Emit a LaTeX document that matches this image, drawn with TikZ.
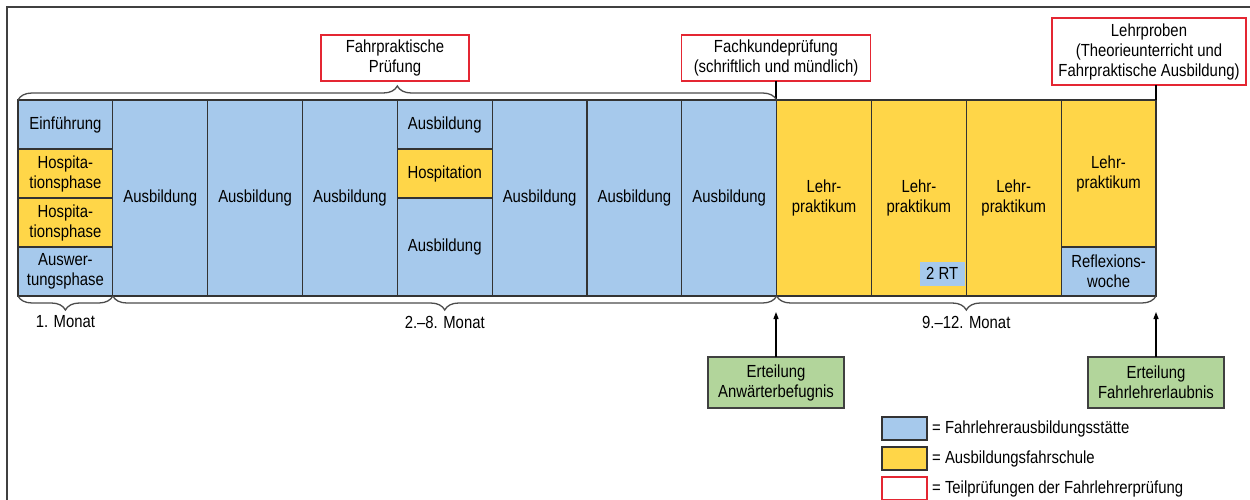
\documentclass[tikz,border=0pt]{standalone}
\usepackage{fontspec}
\setmainfont{Liberation Sans}[FakeStretch=0.85]
\usetikzlibrary{positioning,arrows.meta,decorations.pathreplacing}
\definecolor{flsblue}{RGB}{166,201,236}
\definecolor{afsyellow}{RGB}{255,214,72}
\definecolor{grantgreen}{RGB}{178,213,155}
\definecolor{examred}{RGB}{228,38,50}
\tikzset{
	cell/.style={draw=black!80, line width=1.2pt, outer sep=0pt, inner sep=1pt, align=center, minimum width=94.83pt},
	fls/.style={cell, fill=flsblue},
	afs/.style={cell, fill=afsyellow},
	quarter/.style={minimum height=49pt},
	half/.style={minimum height=98pt},
	threeq/.style={minimum height=147pt},
	full/.style={minimum height=196pt},
	exam/.style={draw=examred, line width=1.2pt, fill=white, align=center, outer sep=0pt},
	grant/.style={draw=black!75, line width=1.2pt, fill=grantgreen, align=center, outer sep=0pt, minimum width=136pt, minimum height=51pt},
	brace up/.style={decorate, decoration={brace, amplitude=14pt}, draw=black!70, line width=1.3pt},
	brace down/.style={brace up},
	month/.style={yshift=-26pt},
	legbox/.style={draw=black!80, line width=1.2pt, minimum width=45pt, minimum height=23pt, outer sep=0pt},
	legtext/.style={inner sep=0pt, anchor=west}
}

\begin{document}
\begin{tikzpicture}[x=1pt, y=-1pt, font=\fontsize{17.5pt}{20pt}\selectfont]
			%%%%% START %%%%%
			\useasboundingbox (0,0) rectangle (1250,500);
			\draw[black!75, line width=2pt] (1250,7) -- (7,7) -- (7,500);
			
			% 1. Monat
			\node[fls, quarter, anchor=north west] (einf) at (18,100) {Einführung};
			\node[afs, quarter, below=0pt of einf] (hosp1) {Hospita-\\tionsphase};
			\node[afs, quarter, below=0pt of hosp1] (hosp2) {Hospita-\\tionsphase};
			\node[fls, quarter, below=0pt of hosp2] (ausw) {Auswer-\\tungsphase};
			
			% 2.-8. Monat
			\node[fls, full, anchor=north west] (ausb2) at (einf.north east) {Ausbildung};
			\node[fls, full, anchor=north west] (ausb3) at (ausb2.north east) {Ausbildung};
			\node[fls, full, anchor=north west] (ausb4) at (ausb3.north east) {Ausbildung};
			\node[fls, quarter, anchor=north west] (ausb5a) at (ausb4.north east) {Ausbildung};
			\node[afs, quarter, below=0pt of ausb5a] (hospit) {Hospitation};
			\node[fls, half, below=0pt of hospit] (ausb5b) {Ausbildung};
			\node[fls, full, anchor=north west] (ausb6) at (ausb5a.north east) {Ausbildung};
			\node[fls, full, anchor=north west] (ausb7) at (ausb6.north east) {Ausbildung};
			\node[fls, full, anchor=north west] (ausb8) at (ausb7.north east) {Ausbildung};
			
			% 9.-12. Monat
			\node[afs, full, anchor=north west] (lp9) at (ausb8.north east) {Lehr-\\praktikum};
			\node[afs, full, anchor=north west] (lp10) at (lp9.north east) {Lehr-\\praktikum};
			\node[afs, full, anchor=north west] (lp11) at (lp10.north east) {Lehr-\\praktikum};
			\node[afs, threeq, anchor=north west] (lp12) at (lp11.north east) {Lehr-\\praktikum};
			\node[fls, quarter, below=0pt of lp12] (refl) {Reflexions-\\woche};
			\node[fill=flsblue, inner sep=0pt, minimum width=45pt, minimum height=24pt, anchor=south east] (rt) at ([xshift=-1.5pt, yshift=10pt]lp10.south east) {2 RT};
			
			% Teilpruefungen
			\node[exam, minimum width=148pt, minimum height=46pt] (fp) at (395,58) {Fahrpraktische\\Prüfung};
			\node[exam, minimum width=189pt, minimum height=46pt] (fk) at (776,58) {Fachkundeprüfung\\(schriftlich und mündlich)};
			\node[exam, minimum width=194pt, minimum height=67pt] (lpr) at (1149,51.5) {Lehrproben\\(Theorieunterricht und\\Fahrpraktische Ausbildung)};
			\draw[black, line width=1.2pt] (fk.south) -- (fk.south |- lp9.north west);
			\draw[black, line width=1.2pt] (lpr.south -| lp12.north east) -- (lp12.north east);
			
			% braces
			\draw[brace up] (einf.north west) -- (ausb8.north east);
			\draw[brace down] (ausw.south east) -- node[month] (mon1) {1. Monat} (ausw.south west);
			\draw[brace down] (lp9.south west) -- node[month] (mon2) {2.--8. Monat} (ausb2.south west);
			\draw[brace down] (refl.south east) -- node[month] (mon3) {9.--12. Monat} (lp9.south west);
			
			% Erteilung
			\node[grant] (anw) at (776,382.5) {Erteilung\\Anwärterbefugnis};
			\node[grant] (fle) at (1156,382.5) {Erteilung\\Fahrlehrerlaubnis};
			\coordinate (t1) at (776,312);
			\coordinate (t2) at (1156,312);
			\draw[-{Triangle[length=7pt, width=5pt]}, line width=1.2pt] (anw.north) -- (t1);
			\draw[-{Triangle[length=7pt, width=5pt]}, line width=1.2pt] (fle.north) -- (t2);
			
			% Legende
			\node[legbox, fill=flsblue] (key1) at (904.5,428.5) {};
			\node[legbox, fill=afsyellow] (key2) at (904.5,458.5) {};
			\node[legbox, draw=examred, fill=white] (key3) at (904.5,488.5) {};
			\node[legtext, right=5pt of key1] (keyt1) {= Fahrlehrerausbildungsstätte};
			\node[legtext, right=5pt of key2] (keyt2) {= Ausbildungsfahrschule};
			\node[legtext, right=5pt of key3] (keyt3) {= Teilprüfungen der Fahrlehrerprüfung};
			%%%%% END %%%%%
\end{tikzpicture}
\end{document}
